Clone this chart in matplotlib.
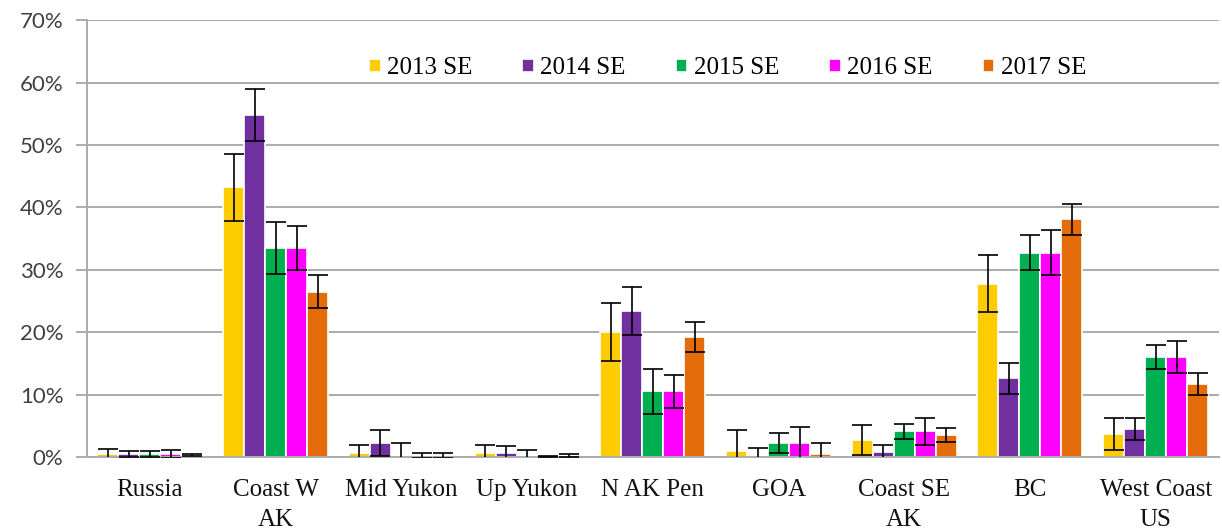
import matplotlib
matplotlib.use("Agg")
import matplotlib.pyplot as plt
import matplotlib.ticker as mticker
import numpy as np

REGIONS = ["Russia", "Coast W\nAK", "Mid Yukon", "Up Yukon", "N AK Pen",
           "GOA", "Coast SE\nAK", "BC", "West Coast\nUS"]
YEARS = ["2013 SE", "2014 SE", "2015 SE", "2016 SE", "2017 SE"]
COLORS = ["#FFCC00", "#7030A0", "#00B050", "#FF00FF", "#E46C0A"]

# percent of stock composition per region, one list per year
V2013 = [0.5, 43.2, 0.7, 0.7, 20.0, 0.9, 2.7, 27.8, 3.7]
V2014 = [0.5, 54.8, 2.3, 0.7, 23.4, 0.2, 0.8, 12.6, 4.5]
V2015 = [0.5, 33.5, 0.2, 0.2, 10.5, 2.2, 4.1, 32.7, 16.0]
V2016 = [0.5, 33.5, 0.2, 0.1, 10.5, 2.2, 4.1, 32.7, 16.0]
V2017 = [0.3, 26.5, 0.2, 0.2, 19.3, 0.4, 3.5, 38.1, 11.7]

# standard errors (percent)
E2013 = [0.8, 5.3, 1.3, 1.3, 4.6, 3.5, 2.4, 4.6, 2.6]
E2014 = [0.5, 4.2, 2.1, 1.1, 3.9, 1.3, 1.1, 2.5, 1.8]
E2015 = [0.5, 4.2, 2.0, 0.9, 3.6, 1.6, 1.2, 2.8, 1.9]
E2016 = [0.6, 3.5, 0.4, 0.1, 2.6, 2.6, 2.2, 3.6, 2.6]
E2017 = [0.2, 2.6, 0.4, 0.2, 2.4, 1.8, 1.1, 2.5, 1.7]

VALUES = [V2013, V2014, V2015, V2016, V2017]
ERRORS = [E2013, E2014, E2015, E2016, E2017]

GRID = "#ABABAB"

fig = plt.figure(figsize=(12.22, 5.32), dpi=100)
ax = fig.add_axes([0.0712, 0.141, 0.926, 0.821])

x = np.arange(len(REGIONS))
width = 0.167
for i, (vals, errs) in enumerate(zip(VALUES, ERRORS)):
    pos = x + (i - 2) * width
    ax.bar(pos, np.array(vals) / 100, width, color=COLORS[i],
           edgecolor="white", linewidth=1.2, label=YEARS[i], zorder=2)
    ax.errorbar(pos, np.array(vals) / 100, yerr=np.array(errs) / 100,
                fmt="none", ecolor="black", elinewidth=1.2, capsize=7,
                capthick=1.2, zorder=3)

ax.set_xlim(-0.5, len(REGIONS) - 0.5)
ax.set_ylim(0, 0.70)
ax.yaxis.set_major_locator(mticker.MultipleLocator(0.10))
ax.yaxis.set_major_formatter(mticker.FuncFormatter(lambda v, _: f"{v * 100:.0f}%"))
ax.grid(True, axis="y", color=GRID, linewidth=1.4, zorder=0)
ax.set_axisbelow(True)

for side in ("top", "right"):
    ax.spines[side].set_visible(False)
for side in ("left", "bottom"):
    ax.spines[side].set_color(GRID)
    ax.spines[side].set_linewidth(1.4)

ax.set_xticks(x)
ax.set_xticklabels(REGIONS, family="Liberation Serif", fontsize=18,
                   color="#111111", linespacing=1.45)
ax.tick_params(axis="x", length=0, pad=16)
ax.tick_params(axis="y", length=8, width=1.4, color=GRID, pad=9,
               labelsize=16, labelcolor="#404040")
for lab in ax.get_yticklabels():
    lab.set_family("Lato")

leg = ax.legend(loc="center", bbox_to_anchor=(0.566, 0.89), ncol=5,
                frameon=False, handlelength=0.46, handleheight=0.46,
                handletextpad=0.26, columnspacing=2.0,
                prop={"family": "Liberation Serif", "size": 18})

fig.savefig("out.png")
